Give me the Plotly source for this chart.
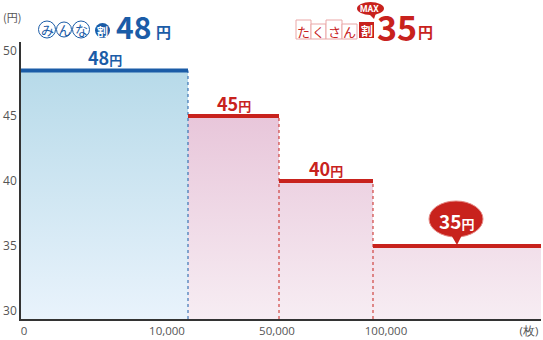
import plotly.graph_objects as go

# ---------------- data ----------------
tier_labels = ["0", "10,000", "50,000", "100,000", "(枚)"]
tier_label_pos = [3, 146, 256, 365, 508]          # axis units
step_edges = [0, 167, 258, 352, 520]               # tier boundaries (axis units)
price_levels = [48.5, 45, 40, 35]                  # drawn level of each tier
price_labels = ["48", "45", "40", "35"]
y_ticks = [30, 35, 40, 45, 50]

# ---------------- style ----------------
BLUE = "#1b5ca7"
RED = "#c8221d"
FONT = "Noto Sans CJK JP"
W, H = 543, 340
L, R, T, B = 21, 2, 42, 21
PW, PH = W - L - R, H - T - B
YMIN, YMAX = 29.385, 50.69


def px(x):
    return (x - L) / PW


def py(y):
    return (H - B - y) / PH


annotations = []
shapes = []


def label(x, y, text, size, color, family=FONT):
    annotations.append(dict(x=px(x), y=py(y), xref="paper", yref="paper",
                            xanchor="center", yanchor="middle",
                            showarrow=False, text=text,
                            font=dict(family=family, size=size, color=color)))


fig = go.Figure()

# blue fill (first tier)
fig.add_trace(go.Scatter(
    x=[step_edges[0], step_edges[0], step_edges[1], step_edges[1]],
    y=[YMIN, price_levels[0], price_levels[0], YMIN],
    fill="toself", mode="none", hoverinfo="skip",
    fillgradient=dict(type="vertical",
                      colorscale=[[0, "#e9f3fc"], [1, "#b7dae9"]]),
))

# pink fill (remaining tiers)
xs, ys = [step_edges[1]], [YMIN]
for i in range(1, 4):
    xs += [step_edges[i], step_edges[i + 1]]
    ys += [price_levels[i], price_levels[i]]
xs.append(step_edges[4])
ys.append(YMIN)
fig.add_trace(go.Scatter(
    x=xs, y=ys, fill="toself", mode="none", hoverinfo="skip",
    fillgradient=dict(type="vertical",
                      colorscale=[[0, "#f7edf3"], [1, "#e8c6da"]]),
))

# dotted boundaries
for i in range(1, 4):
    fig.add_trace(go.Scatter(
        x=[step_edges[i], step_edges[i]], y=[YMIN, price_levels[i - 1]],
        mode="lines", hoverinfo="skip",
        line=dict(color=BLUE if i == 1 else RED, width=1, dash="dot"),
    ))

# level lines
for i in range(4):
    fig.add_trace(go.Scatter(
        x=[step_edges[i], step_edges[i + 1]], y=[price_levels[i]] * 2,
        mode="lines", hoverinfo="skip",
        line=dict(color=BLUE if i == 0 else RED, width=4),
    ))

# price labels above lines (tiers 1-3)
for i in range(3):
    c = BLUE if i == 0 else RED
    annotations.append(dict(
        x=(step_edges[i] + step_edges[i + 1]) / 2, y=price_levels[i],
        xref="x", yref="y", xanchor="center", yanchor="bottom", yshift=-2,
        showarrow=False,
        text=f"<b>{price_labels[i]}</b><span style='font-size:13px'><b>円</b></span>",
        font=dict(family=FONT, size=18, color=c),
    ))

# speech bubble for last tier
bx0, bx1, by0, by1 = 429, 483, 201, 237
shapes.append(dict(type="circle", xref="paper", yref="paper",
                   x0=px(bx0), x1=px(bx1), y0=py(by1), y1=py(by0),
                   fillcolor=RED, line=dict(color="#e58a86", width=1)))
shapes.append(dict(type="path", xref="paper", yref="paper",
                   path=f"M {px(450)},{py(233)} L {px(463)},{py(233)} L {px(457)},{py(245)} Z",
                   fillcolor=RED, line=dict(width=0)))
label(456, 220, f"<b>{price_labels[3]}</b><span style='font-size:13px'><b>円</b></span>",
      19, "white")

# ---- header: みんな割48円 ----
for ch, cx, r in [("み", 47, 8.5), ("ん", 64, 7.5), ("な", 81, 8.5)]:
    shapes.append(dict(type="circle", xref="paper", yref="paper",
                       x0=px(cx - r), x1=px(cx + r), y0=py(29.5 + r), y1=py(29.5 - r),
                       fillcolor="white", line=dict(color=BLUE, width=1)))
    label(cx, 29.5, ch, 13, BLUE)
shapes.append(dict(type="circle", xref="paper", yref="paper",
                   x0=px(95), x1=px(110), y0=py(38), y1=py(23),
                   fillcolor=BLUE, line=dict(width=0)))
label(102.5, 30.5, "<b>割</b>", 11, "white")
label(133.5, 25.5, "<b>48</b>", 30, BLUE)
label(163, 31, "<b>円</b>", 15, BLUE)

# ---- header: たくさん割MAX35円 ----
for ch, x0, x1, y0 in [("た", 296, 311, 20), ("く", 311, 326, 24),
                       ("さ", 326, 342, 20), ("ん", 342, 357, 24)]:
    shapes.append(dict(type="rect", xref="paper", yref="paper",
                       x0=px(x0), x1=px(x1), y0=py(39), y1=py(y0),
                       fillcolor="white", line=dict(color="#eaa7a7", width=1)))
    label((x0 + x1) / 2, 31, ch, 13, RED)
shapes.append(dict(type="rect", xref="paper", yref="paper",
                   x0=px(359), x1=px(374), y0=py(38), y1=py(22),
                   fillcolor=RED, line=dict(width=0)))
label(366.5, 30, "<b>割</b>", 12, "white")
shapes.append(dict(type="circle", xref="paper", yref="paper",
                   x0=px(357), x1=px(384), y0=py(15), y1=py(2),
                   fillcolor=RED, line=dict(width=0)))
shapes.append(dict(type="path", xref="paper", yref="paper",
                   path=f"M {px(368)},{py(13)} L {px(376)},{py(13)} L {px(374)},{py(19)} Z",
                   fillcolor=RED, line=dict(width=0)))
label(369, 8.5, "<b>MAX</b>", 8.5, "white", "Roboto")
label(397, 26, "<b>35</b>", 34, RED)
label(425, 31, "<b>円</b>", 15, RED)

# axis unit label
label(12, 17, "(円)", 11, "#555")

fig.update_layout(
    width=W, height=H,
    margin=dict(l=L, r=R, t=T, b=B, pad=0),
    paper_bgcolor="white", plot_bgcolor="white",
    showlegend=False,
    shapes=shapes, annotations=annotations,
    xaxis=dict(range=[step_edges[0], step_edges[-1]], tickmode="array",
               tickvals=tier_label_pos, ticktext=tier_labels,
               showgrid=False, zeroline=False, showline=True,
               linecolor="#333", linewidth=1.5, ticks="",
               tickfont=dict(family="Open Sans", size=11.5, color="#555"),
               automargin=False, fixedrange=True),
    yaxis=dict(range=[YMIN, YMAX], tickmode="array", tickvals=y_ticks,
               showgrid=False, zeroline=False, showline=True,
               linecolor="#333", linewidth=1.5, ticks="",
               tickfont=dict(family="Open Sans", size=12, color="#555"),
               automargin=False, fixedrange=True),
)

fig.write_html("out.html")
